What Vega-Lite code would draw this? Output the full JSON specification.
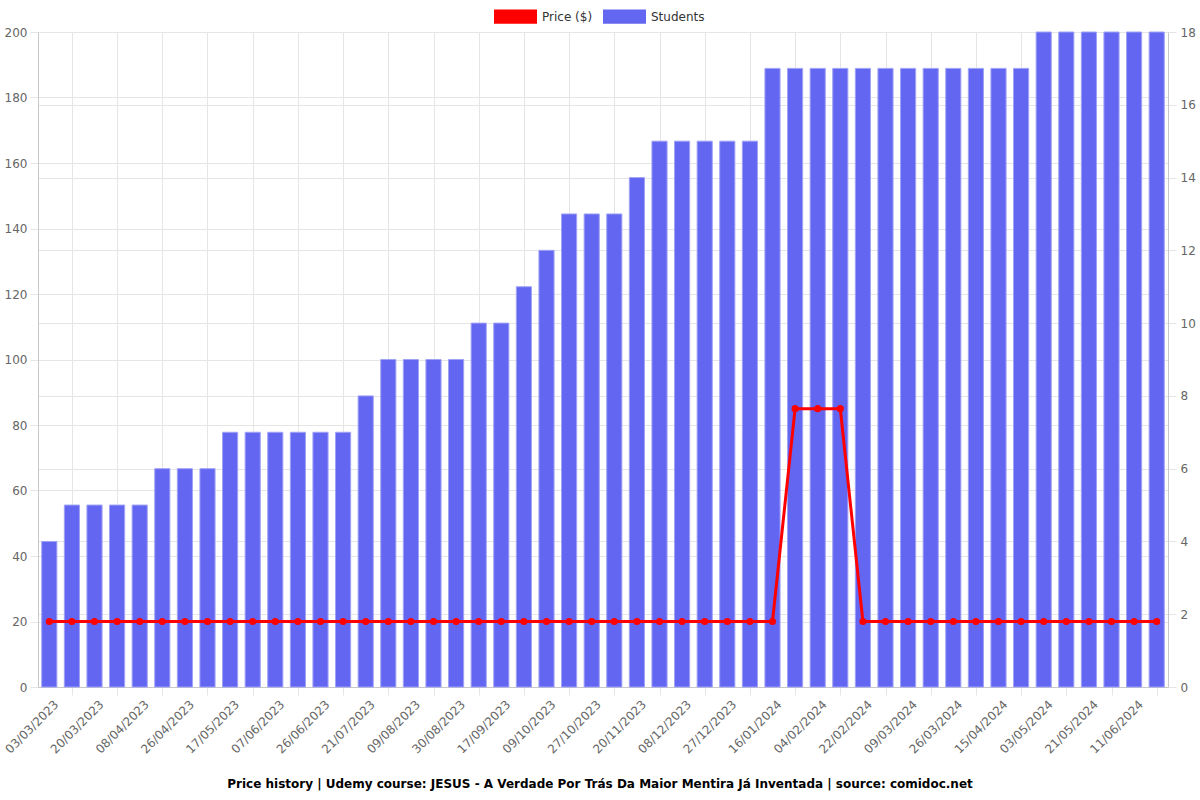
{
  "$schema": "https://vega.github.io/schema/vega-lite/v6.json",
  "width": 1130,
  "height": 655,
  "autosize": "none",
  "padding": {"left": 38, "top": 32, "right": 32, "bottom": 113},
  "background": "white",
  "config": {
    "font": "DejaVu Sans",
    "view": {"stroke": null},
    "axis": {"labelFont": "DejaVu Sans", "labelFontSize": 12, "labelColor": "#666666", "gridColor": "#e5e5e5", "domainColor": "#c8c8c8", "tickColor": "#e5e5e5", "tickSize": 8, "titleFontSize": 0}
  },
  "title": {
    "text": "Price history | Udemy course: JESUS - A Verdade Por Trás Da Maior Mentira Já Inventada | source: comidoc.net",
    "orient": "bottom",
    "anchor": "middle",
    "fontSize": 12,
    "fontWeight": "bold",
    "color": "#000000",
    "font": "DejaVu Sans",
    "offset": 24,
    "dx": -3
  },
  "data": {
    "values": [
      {"date": "03/03/2023", "students": 4, "price": 19.99},
      {"date": "11/03/2023", "students": 5, "price": 19.99},
      {"date": "20/03/2023", "students": 5, "price": 19.99},
      {"date": "30/03/2023", "students": 5, "price": 19.99},
      {"date": "08/04/2023", "students": 5, "price": 19.99},
      {"date": "17/04/2023", "students": 6, "price": 19.99},
      {"date": "26/04/2023", "students": 6, "price": 19.99},
      {"date": "06/05/2023", "students": 6, "price": 19.99},
      {"date": "17/05/2023", "students": 7, "price": 19.99},
      {"date": "27/05/2023", "students": 7, "price": 19.99},
      {"date": "07/06/2023", "students": 7, "price": 19.99},
      {"date": "16/06/2023", "students": 7, "price": 19.99},
      {"date": "26/06/2023", "students": 7, "price": 19.99},
      {"date": "08/07/2023", "students": 7, "price": 19.99},
      {"date": "21/07/2023", "students": 8, "price": 19.99},
      {"date": "30/07/2023", "students": 9, "price": 19.99},
      {"date": "09/08/2023", "students": 9, "price": 19.99},
      {"date": "19/08/2023", "students": 9, "price": 19.99},
      {"date": "30/08/2023", "students": 9, "price": 19.99},
      {"date": "08/09/2023", "students": 10, "price": 19.99},
      {"date": "17/09/2023", "students": 10, "price": 19.99},
      {"date": "28/09/2023", "students": 11, "price": 19.99},
      {"date": "09/10/2023", "students": 12, "price": 19.99},
      {"date": "18/10/2023", "students": 13, "price": 19.99},
      {"date": "27/10/2023", "students": 13, "price": 19.99},
      {"date": "08/11/2023", "students": 13, "price": 19.99},
      {"date": "20/11/2023", "students": 14, "price": 19.99},
      {"date": "29/11/2023", "students": 15, "price": 19.99},
      {"date": "08/12/2023", "students": 15, "price": 19.99},
      {"date": "17/12/2023", "students": 15, "price": 19.99},
      {"date": "27/12/2023", "students": 15, "price": 19.99},
      {"date": "06/01/2024", "students": 15, "price": 19.99},
      {"date": "16/01/2024", "students": 17, "price": 19.99},
      {"date": "25/01/2024", "students": 17, "price": 84.99},
      {"date": "04/02/2024", "students": 17, "price": 84.99},
      {"date": "13/02/2024", "students": 17, "price": 84.99},
      {"date": "22/02/2024", "students": 17, "price": 19.99},
      {"date": "01/03/2024", "students": 17, "price": 19.99},
      {"date": "09/03/2024", "students": 17, "price": 19.99},
      {"date": "17/03/2024", "students": 17, "price": 19.99},
      {"date": "26/03/2024", "students": 17, "price": 19.99},
      {"date": "05/04/2024", "students": 17, "price": 19.99},
      {"date": "15/04/2024", "students": 17, "price": 19.99},
      {"date": "24/04/2024", "students": 17, "price": 19.99},
      {"date": "03/05/2024", "students": 18, "price": 19.99},
      {"date": "12/05/2024", "students": 18, "price": 19.99},
      {"date": "21/05/2024", "students": 18, "price": 19.99},
      {"date": "31/05/2024", "students": 18, "price": 19.99},
      {"date": "11/06/2024", "students": 18, "price": 19.99},
      {"date": "20/06/2024", "students": 18, "price": 19.99}
    ]
  },
  "encoding": {
    "x": {
      "field": "date",
      "type": "ordinal",
      "sort": null,
      "title": null,
      "scale": {"paddingInner": 0.33, "paddingOuter": 0.165, "round": false},
      "axis": {
        "values": ["03/03/2023", "20/03/2023", "08/04/2023", "26/04/2023", "17/05/2023", "07/06/2023", "26/06/2023", "21/07/2023", "09/08/2023", "30/08/2023", "17/09/2023", "09/10/2023", "27/10/2023", "20/11/2023", "08/12/2023", "27/12/2023", "16/01/2024", "04/02/2024", "22/02/2024", "09/03/2024", "26/03/2024", "15/04/2024", "03/05/2024", "21/05/2024", "11/06/2024"],
        "labelAngle": -45,
        "labelAlign": "right",
        "labelBaseline": "middle",
        "grid": true,
        "tickOffset": 22.6,
        "labelOffset": -16,
        "labelPadding": 7
      }
    }
  },
  "layer": [
    {
      "mark": {"type": "bar", "fill": "#6366f1", "stroke": "#a0a2f6", "strokeWidth": 1},
      "encoding": {
        "y": {
          "field": "students",
          "type": "quantitative",
          "title": null,
          "scale": {"domain": [0, 18], "nice": false},
          "axis": {"orient": "right", "values": [0, 2, 4, 6, 8, 10, 12, 14, 16, 18], "grid": true, "labelPadding": 4}
        },
        "color": {
          "datum": "Students",
          "scale": {"domain": ["Price ($)", "Students"], "range": ["#ff0000", "#6366f1"]},
          "legend": {
            "orient": "none",
            "legendX": 456,
            "legendY": -37,
            "direction": "horizontal",
            "title": null,
            "symbolType": "M-1,-0.33H1V0.33H-1Z",
            "symbolSize": 1849,
            "symbolStrokeWidth": 0,
            "labelFont": "DejaVu Sans",
            "labelFontSize": 12,
            "labelColor": "#333333",
            "columnPadding": 10,
            "labelOffset": 5
          }
        }
      }
    },
    {
      "mark": {"type": "line", "color": "#ff0000", "strokeWidth": 3, "point": {"filled": true, "color": "#ff0000", "size": 50}},
      "encoding": {
        "y": {
          "field": "price",
          "type": "quantitative",
          "title": null,
          "scale": {"domain": [0, 200], "nice": false},
          "axis": {"orient": "left", "values": [0, 20, 40, 60, 80, 100, 120, 140, 160, 180, 200], "grid": true, "labelPadding": 3}
        }
      }
    }
  ],
  "resolve": {"scale": {"y": "independent", "color": "independent"}}
}
